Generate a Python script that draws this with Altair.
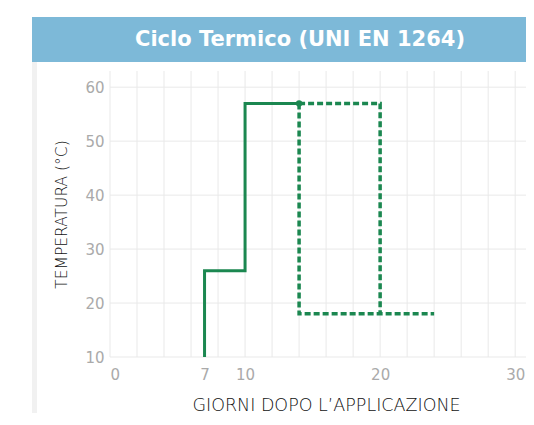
import altair as alt
import pandas as pd

title_text = ["Ciclo Termico (UNI EN 1264)"]
x_title = "GIORNI DOPO L\u2019APPLICAZIONE"
y_title = "TEMPERATURA (\u00b0C)"

# solid heating path
solid_days = [7, 7, 10, 10, 14]
solid_temp = [10, 26, 26, 57, 57]
# dashed paths (two segments)
dash_seg = ["a", "a", "a", "b", "b", "b"]
dash_days = [14, 14, 24, 14, 20, 20]
dash_temp = [57, 18, 18, 57, 57, 18]
dot_days = [14]
dot_temp = [57]

x_labels = [0, 7, 10, 20, 30]
x_grid = list(range(0, 32, 2))
y_grid = [10, 20, 30, 40, 50, 60]

green = "#1b8750"
grid_col = "#e9e9e9"

W, H = 416, 286
xs = alt.Scale(domain=[0, 30.8], nice=False, zero=False)
ys = alt.Scale(domain=[10, 63], nice=False, zero=False)

solid_df = pd.DataFrame({"d": solid_days, "t": solid_temp, "o": range(len(solid_days))})
dash_df = pd.DataFrame({"s": dash_seg, "d": dash_days, "t": dash_temp, "o": range(len(dash_days))})
dot_df = pd.DataFrame({"d": dot_days, "t": dot_temp})
xg_df = pd.DataFrame({"d": x_grid})
yg_df = pd.DataFrame({"t": y_grid})
title_df = pd.DataFrame({"txt": title_text})

xaxis = alt.Axis(values=x_labels, grid=False, ticks=False, domain=False, title=x_title,
                 titleFontSize=17.5, titleX=216)
yaxis = alt.Axis(values=y_grid, grid=False, ticks=False, domain=False, title=y_title,
                 titleFontSize=15.5)

shadow = alt.Chart(title_df).mark_rect(color="#f1f1f1").encode(
    x=alt.value(-78), x2=alt.value(-73), y=alt.value(-9), y2=alt.value(346)
)
header = alt.Chart(title_df).mark_rect(color="#7db9d8").encode(
    x=alt.value(-78), x2=alt.value(420), y=alt.value(-54), y2=alt.value(-9)
)
header_txt = alt.Chart(title_df).mark_text(
    color="white", fontSize=21, fontWeight="bold", font="DejaVu Sans", baseline="middle", align="center"
).encode(x=alt.value(190), y=alt.value(-31), text="txt:N")

vgrid = alt.Chart(xg_df).mark_rule(color=grid_col, strokeWidth=1).encode(
    x=alt.X("d:Q", scale=xs, axis=xaxis)
)
hgrid = alt.Chart(yg_df).mark_rule(color=grid_col, strokeWidth=1).encode(
    y=alt.Y("t:Q", scale=ys, axis=yaxis)
)

solid = alt.Chart(solid_df).mark_line(color=green, strokeWidth=3, strokeJoin="miter").encode(
    x=alt.X("d:Q", scale=xs, axis=xaxis),
    y=alt.Y("t:Q", scale=ys, axis=yaxis),
    order="o:Q",
)
dashed = alt.Chart(dash_df).mark_line(color=green, strokeWidth=3.5, strokeDash=[6, 3]).encode(
    x=alt.X("d:Q", scale=xs, axis=xaxis),
    y=alt.Y("t:Q", scale=ys, axis=yaxis),
    detail="s:N",
    order="o:Q",
)
dot = alt.Chart(dot_df).mark_circle(color=green, size=40, opacity=1).encode(
    x=alt.X("d:Q", scale=xs, axis=xaxis), y=alt.Y("t:Q", scale=ys, axis=yaxis)
)

chart = alt.layer(shadow, header, header_txt, vgrid, hgrid, solid, dashed, dot).properties(
    width=W, height=H,
    autosize=alt.AutoSizeParams(type="none"),
    padding={"left": 102, "top": 63, "right": 0, "bottom": 56},
).configure_view(stroke=None).configure_axis(
    labelFont="DejaVu Sans", labelFontSize=15, labelColor="#aaaaaa",
    titleFont="DejaVu Sans", titleColor="#111111", titleFontWeight=300,
).configure_axisX(labelPadding=10, titlePadding=14).configure_axisY(
    labelPadding=6, titlePadding=15
)

chart.save("out.html", embed_options={"renderer": "svg", "actions": False})
